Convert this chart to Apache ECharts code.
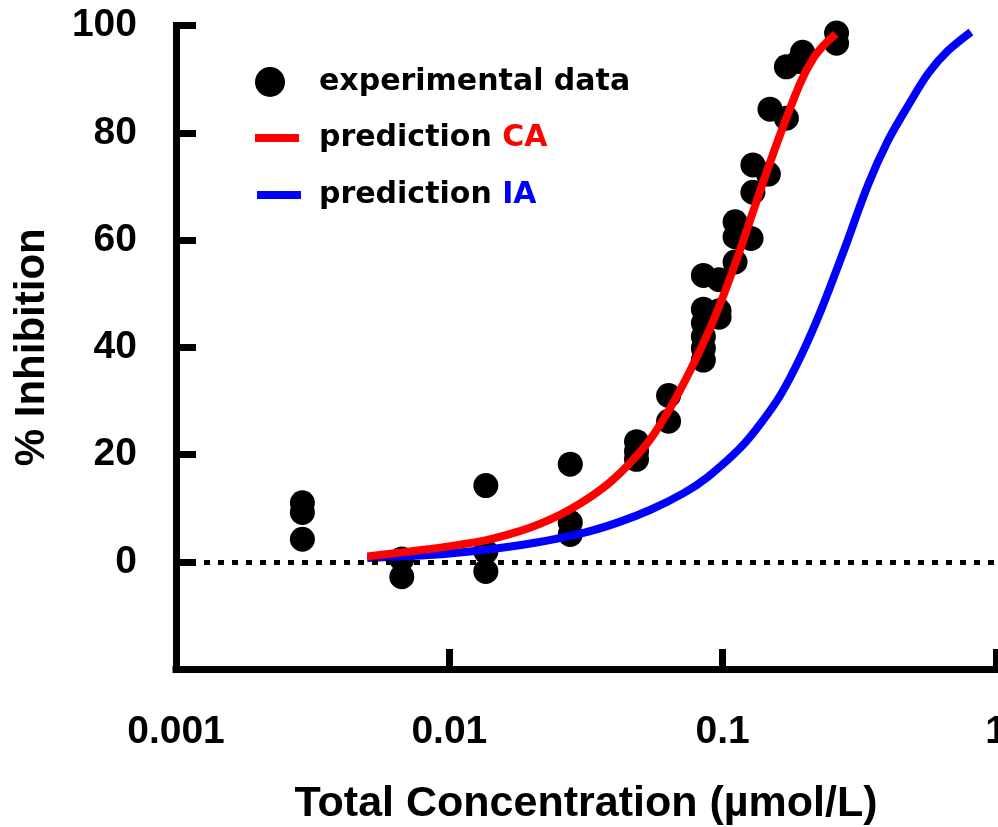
<!DOCTYPE html>
<html>
<head>
<meta charset="utf-8">
<script src="https://cdn.jsdelivr.net/npm/echarts@6/dist/echarts.min.js"></script>
<style>
  html, body { margin: 0; padding: 0; background: #fff; }
  #main { width: 998px; height: 827px; }
</style>
</head>
<body>
<div id="main"></div>
<script>
// experimental points (concentration, % inhibition)
let expX = [0.0029, 0.0029, 0.0029, 0.0067, 0.0067, 0.0136, 0.0136, 0.0136,
  0.0277, 0.0277, 0.0277, 0.0484, 0.0484, 0.0484, 0.0634, 0.0634,
  0.085, 0.085, 0.085, 0.085, 0.085, 0.085, 0.097, 0.097, 0.097,
  0.111, 0.111, 0.111, 0.127, 0.129, 0.129, 0.147, 0.149, 0.171, 0.171,
  0.19, 0.196, 0.261, 0.261]
let expY = [11.0, 9.2, 4.2, 0.5, -2.8, 14.2, 1.9, -1.8,
  18.2, 7.3, 5.1, 22.4, 20.6, 19.1, 31.0, 26.2,
  53.4, 47.1, 44.5, 42.0, 39.8, 37.6, 52.6, 46.8, 45.6,
  63.4, 60.6, 55.9, 60.3, 74.0, 68.9, 72.3, 84.4, 92.3, 82.7,
  93.3, 95.0, 98.6, 96.7]

// prediction CA (red)
let caX = [0.005006, 0.006614, 0.008519, 0.01097, 0.01355, 0.01673, 0.01981, 0.02344,
  0.02774, 0.03284, 0.03887, 0.04603, 0.05448, 0.06449, 0.07634, 0.09036, 0.1009,
  0.1164, 0.1378, 0.1632, 0.1931, 0.2154, 0.2344, 0.2594]
let caY = [1.0, 1.7, 2.4, 3.2, 4.0, 5.2, 6.4, 7.9,
  9.8, 12.1, 14.9, 18.5, 22.9, 28.8, 35.8, 43.8, 49.8,
  58.5, 69.5, 80.0, 89.5, 94.0, 96.3, 98.4]

// prediction IA (blue)
let iaX = [0.005006, 0.008738, 0.01332, 0.02031, 0.03096, 0.04124, 0.05448, 0.07197,
  0.0881, 0.1164, 0.1378, 0.1632, 0.1931, 0.2286, 0.2775, 0.3398, 0.4022,
  0.4761, 0.5636, 0.6672, 0.8099]
let iaY = [0.7, 1.3, 2.2, 3.5, 5.4, 7.3, 9.7, 12.8,
  15.8, 21.3, 25.8, 31.2, 38.3, 46.8, 58.0, 70.2, 78.5,
  85.0, 91.0, 95.3, 98.8]

let yTicks = [0, 20, 40, 60, 80, 100]

function pairs(xs, ys) {
    return xs.map((x, i) => [x, ys[i]])
}

var myChart = echarts.init(document.getElementById('main'))

let legendFont = { fontFamily: 'DejaVu Sans', fontWeight: 'bold', fontSize: 30, color: '#000' }
function legendBox(name, left, top, icon, pad) {
    return {
        data: [{ name: name, icon: icon }],
        left: left,
        top: top,
        orient: 'vertical',
        itemWidth: 44,
        itemHeight: 30,
        selectedMode: false,
        textStyle: Object.assign({}, legendFont, {
            rich: {
                p: Object.assign({}, legendFont, { padding: [0, 0, 0, pad] }),
                r: Object.assign({}, legendFont, { color: '#ff0000' }),
                b: Object.assign({}, legendFont, { color: '#0000ff' })
            }
        }),
        formatter: function (n) {
            if (n === 'prediction CA') return '{p|prediction} {r|CA}'
            if (n === 'prediction IA') return '{p|prediction} {b|IA}'
            return '{p|' + n + '}'
        }
    }
}

var option = {
    animation: false,
    backgroundColor: '#fff',
    grid: {
        left: 176, right: 2, top: 25.5, bottom: 158,
        containLabel: false,
        outerBoundsMode: 'none'
    },
    legend: [
        legendBox('experimental data', 250, 62, 'circle', 22),
        legendBox('prediction CA', 250, 118, 'path://M0,0H44V8H0Z', 15),
        legendBox('prediction IA', 252, 175, 'path://M0,0H44V8H0Z', 13)
    ],
    xAxis: {
        type: 'log',
        logBase: 10,
        min: 0.001,
        max: 1,
        name: 'Total Concentration (µmol/L)',
        nameLocation: 'middle',
        nameGap: 114,
        nameTextStyle: { fontFamily: 'Liberation Sans', fontWeight: 'bold', fontSize: 43, color: '#000' },
        axisLine: { onZero: false, lineStyle: { color: '#000', width: 7, cap: 'square' } },
        axisTick: { inside: true, length: 20, lineStyle: { color: '#000', width: 7 } },
        minorTick: { show: false },
        splitLine: { show: false },
        axisLabel: {
            fontFamily: 'Liberation Sans', fontWeight: 'bold', fontSize: 39, color: '#000', margin: 44,
            formatter: function (v) { return String(v) }
        }
    },
    yAxis: {
        type: 'value',
        min: -20,
        max: 100,
        interval: 20,
        name: '% Inhibition',
        nameLocation: 'middle',
        nameGap: 123,
        nameRotate: 90,
        nameTextStyle: { fontFamily: 'Liberation Sans', fontWeight: 'bold', fontSize: 42, color: '#000' },
        axisLine: { show: true, onZero: false, lineStyle: { color: '#000', width: 7, cap: 'square' } },
        axisTick: { show: true, inside: true, length: 20, lineStyle: { color: '#000', width: 7 } },
        splitLine: { show: false },
        axisLabel: {
            fontFamily: 'Liberation Sans', fontWeight: 'bold', fontSize: 39, color: '#000', margin: 39,
            formatter: function (v) { return yTicks.indexOf(v) >= 0 ? String(v) : '' }
        }
    },
    series: [
        {
            name: 'prediction IA',
            type: 'line',
            data: pairs(iaX, iaY),
            smooth: 0.3,
            showSymbol: false,
            color: '#0000ff',
            lineStyle: { color: '#0000ff', width: 8 },
            markLine: {
                silent: true,
                symbol: ['none', 'none'],
                label: { show: false },
                lineStyle: { color: '#000', width: 5, type: [6, 8] },
                data: [{ yAxis: 0 }]
            }
        },
        {
            name: 'prediction CA',
            type: 'line',
            data: pairs(caX, caY),
            smooth: 0.3,
            showSymbol: false,
            color: '#ff0000',
            lineStyle: { color: '#ff0000', width: 8 }
        },
        {
            name: 'experimental data',
            type: 'scatter',
            data: pairs(expX, expY),
            symbolSize: 25,
            color: '#000',
            itemStyle: { color: '#000', opacity: 1 }
        }
    ]
}

myChart.setOption(option)
</script>
</body>
</html>
